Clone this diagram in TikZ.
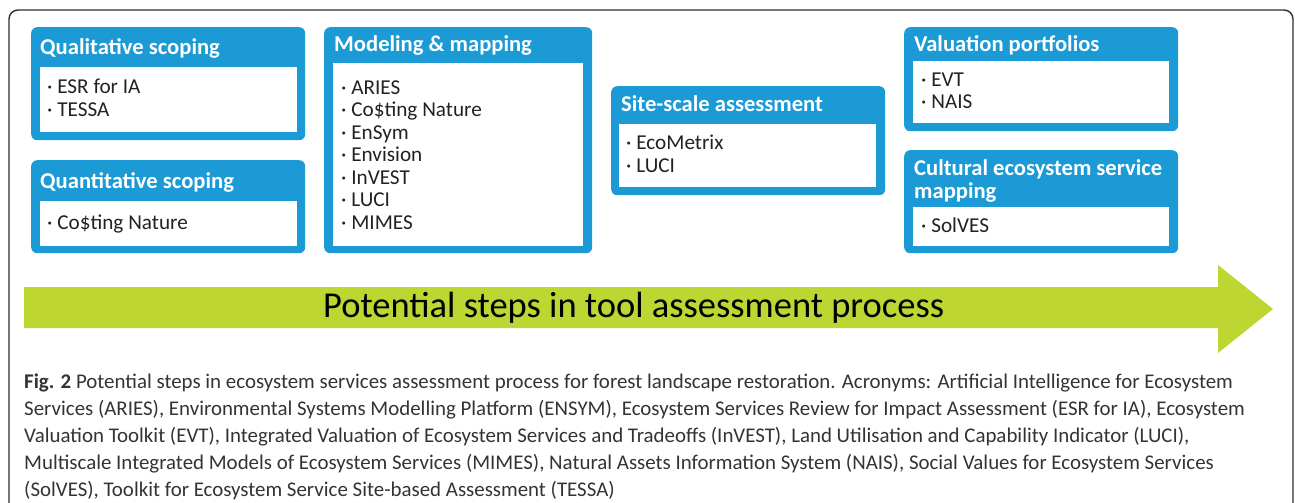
\documentclass[tikz,border=0pt]{standalone}
\usepackage{fontspec}
\setmainfont{Carlito}
\definecolor{boxblue}{HTML}{1B9AD6}
\definecolor{arrowgreen}{HTML}{BDD632}
\definecolor{framegray}{HTML}{2E2E2E}
\definecolor{itemtext}{HTML}{222222}
\definecolor{captext}{HTML}{333333}
\begin{document}
\begin{tikzpicture}[x=1pt,y=-1pt,
  outerbox/.style={fill=boxblue, rounded corners=6pt, anchor=north west, inner sep=0pt},
  innerbox/.style={fill=white, anchor=north west, inner sep=0pt},
  titletext/.style={text=white, font=\fontsize{22.6}{26}\selectfont\bfseries, anchor=base west, inner sep=0pt},
  itemtext/.style={text=itemtext, font=\fontsize{21.2}{22.5}\selectfont, anchor=base west, inner sep=0pt},
  captiontext/.style={text=captext, font=\fontsize{20.9}{27}\selectfont, anchor=base west, inner sep=0pt},
]
\useasboundingbox (0,0) rectangle (1295,503);

% outer frame, open below
\draw[framegray, line width=1.4pt, rounded corners=9pt] (9,530) -- (9,10) -- (1293,10) -- (1293,530);

% Qualitative scoping
\node[outerbox, minimum width=274pt, minimum height=113pt] (qual) at (31,27) {};
\node[innerbox, minimum width=257pt, minimum height=65pt] (qualin) at (40,67) {};
\node[titletext] (qualt) at (40,55) {Qualitative scoping};
\node[itemtext] (qual1) at (47,93) {· ESR for IA};
\node[itemtext] (qual2) at (47,116) {· TESSA};

% Quantitative scoping
\node[outerbox, minimum width=274pt, minimum height=93pt] (quan) at (31,160) {};
\node[innerbox, minimum width=257pt, minimum height=45pt] (quanin) at (40,201) {};
\node[titletext] (quant) at (40,188) {Quantitative scoping};
\node[itemtext] (quan1) at (47,229) {· Co\$ting Nature};

% Modeling & mapping
\node[outerbox, minimum width=268pt, minimum height=226pt] (mod) at (324,27) {};
\node[innerbox, minimum width=250pt, minimum height=183pt] (modin) at (333,63) {};
\node[titletext] (modt) at (334,52) {Modeling \& mapping};
\foreach \t [count=\i] in {ARIES, Co\$ting Nature, EnSym, Envision, InVEST, LUCI, MIMES}
  \node[itemtext] (mod\i) at (341,{71.5+22.5*\i}) {· \t};

% Site-scale assessment
\node[outerbox, minimum width=274pt, minimum height=109pt] (site) at (611,86) {};
\node[innerbox, minimum width=257pt, minimum height=63pt] (sitein) at (619,124) {};
\node[titletext] (sitet) at (621,111) {Site-scale assessment};
\node[itemtext] (site1) at (626,149) {· EcoMetrix};
\node[itemtext] (site2) at (626,172) {· LUCI};

% Valuation portfolios
\node[outerbox, minimum width=274pt, minimum height=104pt] (val) at (904,27) {};
\node[innerbox, minimum width=256pt, minimum height=62pt] (valin) at (913,61) {};
\node[titletext] (valt) at (914,52) {Valuation portfolios};
\node[itemtext] (val1) at (921,86) {· EVT};
\node[itemtext] (val2) at (921,108) {· NAIS};

% Cultural ecosystem service mapping
\node[outerbox, minimum width=274pt, minimum height=103pt] (cult) at (904,150) {};
\node[innerbox, minimum width=256pt, minimum height=39pt] (cultin) at (913,207) {};
\node[titletext] (cultt1) at (914,175) {Cultural ecosystem service};
\node[titletext] (cultt2) at (914,198) {mapping};
\node[itemtext] (cult1) at (921,232) {· SolVES};

% process arrow
\fill[arrowgreen] (24,287) -- (1218,287) -- (1218,265) -- (1273,309)
  -- (1218,353) -- (1218,328) -- (24,328) -- cycle;
\node[anchor=base west, inner sep=0pt, font=\fontsize{36.5}{40}\selectfont, text=black] (arrowt) at (323,317)
  {Potential steps in tool assessment process};

% caption
\node[captiontext] (cap1) at (24,388) {\textbf{Fig. 2} Potential steps in ecosystem services assessment process for forest landscape restoration. Acronyms: Artificial Intelligence for Ecosystem};
\node[captiontext] (cap2) at (24,415) {Services (ARIES), Environmental Systems Modelling Platform (ENSYM), Ecosystem Services Review for Impact Assessment (ESR for IA), Ecosystem};
\node[captiontext] (cap3) at (24,442) {Valuation Toolkit (EVT), Integrated Valuation of Ecosystem Services and Tradeoffs (InVEST), Land Utilisation and Capability Indicator (LUCI),};
\node[captiontext] (cap4) at (24,469) {Multiscale Integrated Models of Ecosystem Services (MIMES), Natural Assets Information System (NAIS), Social Values for Ecosystem Services};
\node[captiontext] (cap5) at (24,496) {(SolVES), Toolkit for Ecosystem Service Site-based Assessment (TESSA)};
\end{tikzpicture}
\end{document}
